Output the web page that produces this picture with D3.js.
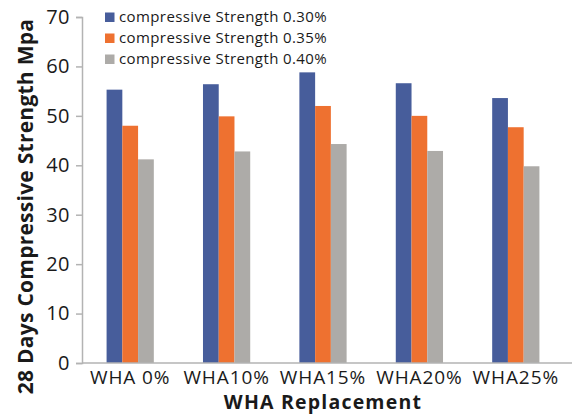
<!DOCTYPE html>
<html>
<head>
<meta charset="utf-8">
<script src="https://cdn.jsdelivr.net/npm/d3@7"></script>
<style>
  html, body { margin: 0; padding: 0; background: #fff; }
  svg { display: block; }
  text { font-family: "Open Sans", "Noto Sans", sans-serif; fill: #1a1a1a; }
</style>
</head>
<body>
<svg id="chart" width="572" height="414"></svg>
<script>
// Mix labels on the x axis
const categories = ["WHA 0%", "WHA10%", "WHA15%", "WHA20%", "WHA25%"];
// Series names shown in the legend
const seriesNames = [
  "compressive Strength 0.30%",
  "compressive Strength 0.35%",
  "compressive Strength 0.40%"
];
// 28-day compressive strength (MPa) per mix, one array per series
const strength030 = [55.3, 56.4, 58.8, 56.6, 53.6];
const strength035 = [48.0, 49.9, 52.0, 50.0, 47.7];
const strength040 = [41.2, 42.8, 44.3, 42.9, 39.8];
const yTicks = [0, 10, 20, 30, 40, 50, 60, 70];

const seriesValues = [strength030, strength035, strength040];
const colors = ["#475d9b", "#ee7130", "#adaba8"];

const svg = d3.select("#chart");
const plot = { left: 82, right: 564, top: 17, bottom: 363 };

const x0 = d3.scaleBand().domain(categories)
  .range([plot.left, plot.right]).paddingInner(0.51).paddingOuter(0.255);
const x1 = d3.scaleBand().domain(d3.range(seriesNames.length))
  .range([0, x0.bandwidth()]);
const y = d3.scaleLinear().domain([0, 70]).range([plot.bottom, plot.top]);

// Bars
const groups = svg.append("g").selectAll("g")
  .data(categories).join("g")
  .attr("transform", d => `translate(${x0(d)},0)`);
groups.selectAll("rect")
  .data((c, i) => seriesValues.map((vals, s) => ({ s, v: vals[i] })))
  .join("rect")
  .attr("x", d => x1(d.s))
  .attr("width", x1.bandwidth())
  .attr("y", d => y(d.v))
  .attr("height", d => y(0) - y(d.v))
  .attr("fill", d => colors[d.s]);

// Y axis
const yAxis = svg.append("g")
  .attr("transform", `translate(${plot.left},0)`)
  .call(d3.axisLeft(y).tickValues(yTicks).tickSize(6).tickPadding(6));
yAxis.select(".domain").attr("stroke", "#b3b3b3").attr("stroke-width", 1.5);
yAxis.selectAll(".tick line").attr("stroke", "#b3b3b3").attr("stroke-width", 1.5);
yAxis.selectAll(".tick text")
  .attr("font-size", 20).attr("fill", "#1a1a1a")
  .attr("letter-spacing", "0.5px")
  .attr("font-family", "'Open Sans', sans-serif");

// X axis
const xAxis = svg.append("g")
  .attr("transform", `translate(0,${plot.bottom})`)
  .call(d3.axisBottom(x0).tickSize(0).tickPadding(8));
xAxis.select(".domain").attr("d", `M${plot.left},0H${572}`)
  .attr("stroke", "#b3b3b3").attr("stroke-width", 1.5);
xAxis.selectAll(".tick text")
  .attr("font-size", 19).attr("fill", "#1a1a1a")
  .attr("letter-spacing", "0.9px")
  .attr("font-family", "'Open Sans', sans-serif");

// Axis titles
svg.append("text")
  .attr("x", (plot.left + 564) / 2).attr("y", 409)
  .attr("text-anchor", "middle")
  .attr("font-size", 19.5).attr("font-weight", "bold")
  .attr("letter-spacing", "1.2px")
  .text("WHA Replacement");
svg.append("text")
  .attr("transform", `translate(33,${(18 + 395) / 2}) rotate(-90)`)
  .attr("text-anchor", "middle")
  .attr("font-size", 21).attr("font-weight", "bold")
  .attr("letter-spacing", "0.25px")
  .text("28 Days Compressive Strength Mpa");

// Legend
const legend = svg.append("g").selectAll("g")
  .data(seriesNames).join("g")
  .attr("transform", (d, i) => `translate(105,${17 + i * 21})`);
legend.append("rect")
  .attr("x", 0).attr("y", -4.5).attr("width", 9.5).attr("height", 9.5)
  .attr("fill", (d, i) => colors[i]);
legend.append("text")
  .attr("x", 14).attr("y", 0).attr("dy", "0.35em")
  .attr("font-size", 15)
  .attr("letter-spacing", "0.4px")
  .text(d => d);
</script>
</body>
</html>
